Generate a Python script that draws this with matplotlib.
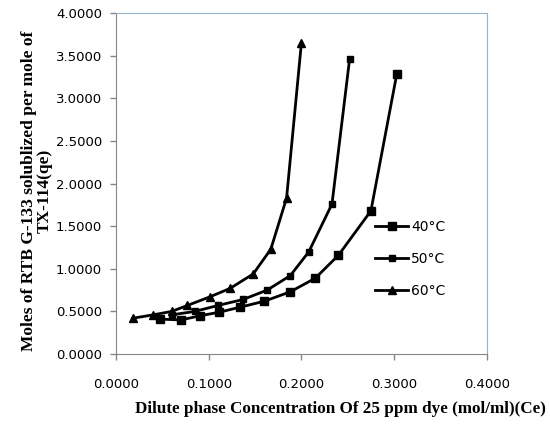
import matplotlib
matplotlib.use('Agg')
import matplotlib.pyplot as plt

# values
ce_40 = [0.047, 0.070, 0.091, 0.111, 0.134, 0.160, 0.188, 0.215, 0.240, 0.275, 0.303]
qe_40 = [0.41, 0.40, 0.45, 0.49, 0.55, 0.62, 0.73, 0.89, 1.16, 1.68, 3.29]

ce_50 = [0.060, 0.085, 0.110, 0.137, 0.163, 0.188, 0.208, 0.233, 0.252]
qe_50 = [0.46, 0.50, 0.57, 0.64, 0.75, 0.92, 1.20, 1.76, 3.46]

ce_60 = [0.018, 0.040, 0.060, 0.077, 0.101, 0.123, 0.148, 0.167, 0.184, 0.200]
qe_60 = [0.42, 0.46, 0.50, 0.57, 0.67, 0.77, 0.94, 1.23, 1.83, 3.65]

x_ticks = [0.0, 0.1, 0.2, 0.3, 0.4]
y_ticks = [0.0, 0.5, 1.0, 1.5, 2.0, 2.5, 3.0, 3.5, 4.0]

fig = plt.figure(figsize=(5.5, 4.24), dpi=100)
ax = fig.add_axes([0.211, 0.165, 0.674, 0.804])

ax.plot(ce_40, qe_40, color='black', linewidth=2.0, marker='s', markersize=5.8, label='40°C')
ax.plot(ce_50, qe_50, color='black', linewidth=2.0, marker='s', markersize=4.0, label='50°C')
ax.plot(ce_60, qe_60, color='black', linewidth=2.0, marker='^', markersize=5.5, label='60°C')

ax.set_xlim(0, 0.4)
ax.set_ylim(0, 4)
ax.set_xticks(x_ticks)
ax.set_yticks(y_ticks)
ax.set_xticklabels([f"{v:.4f}" for v in x_ticks])
ax.set_yticklabels([f"{v:.4f}" for v in y_ticks])
ax.tick_params(direction='out', length=4, width=1, color='#868686', labelsize=9.5)
ax.tick_params(axis='x', pad=13)
ax.tick_params(axis='y', pad=6)

for side in ['left', 'bottom']:
    ax.spines[side].set_color('#868686')
for side in ['top', 'right']:
    ax.spines[side].set_color('#8eb4e3')

ax.set_xlabel("Dilute phase Concentration Of 25 ppm dye (mol/ml)(Ce)",
              family='Liberation Serif', fontweight='bold', fontsize=12.3)
ax.xaxis.set_label_coords(0.604, -0.138)
ax.set_ylabel("Moles of RTB G-133 solublized per mole of\nTX-114(qe)",
              family='Liberation Serif', fontweight='bold', fontsize=12.5, linespacing=0.95)
ax.yaxis.set_label_coords(-0.172, 0.48)

ax.legend(loc='center left', bbox_to_anchor=(0.665, 0.28), frameon=False,
          fontsize=10, labelspacing=1.3, handlelength=2.4, handletextpad=0.2)

fig.savefig('out.png', dpi=100)
